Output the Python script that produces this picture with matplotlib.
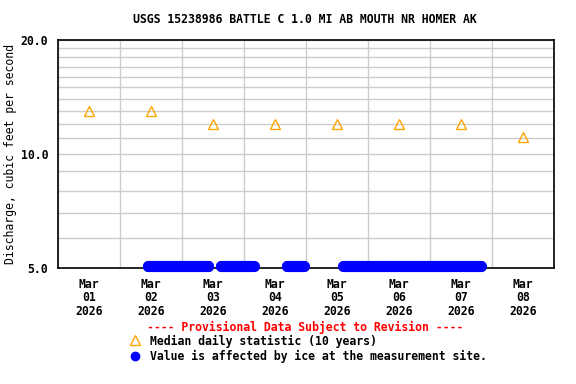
import matplotlib
matplotlib.use("Agg")
import matplotlib.pyplot as plt
import matplotlib.dates as mdates
from matplotlib.ticker import FixedLocator, NullFormatter
import pandas as pd

plt.rcParams['font.family'] = 'DejaVu Sans Mono'
plt.rcParams['font.weight'] = 'bold'
plt.rcParams['font.size'] = 8.3

title = "USGS 15238986 BATTLE C 1.0 MI AB MOUTH NR HOMER AK"

# median daily statistic, plotted at noon of each day
median_days = ["2026-03-01", "2026-03-02", "2026-03-03", "2026-03-04",
               "2026-03-05", "2026-03-06", "2026-03-07", "2026-03-08"]
median_vals = [13.0, 13.0, 12.0, 12.0, 12.0, 12.0, 12.0, 11.1]

# ice-affected periods (15-minute data, shown at the bottom of the axis)
ice_starts = ["2026-03-02 10:45", "2026-03-03 15:00", "2026-03-04 16:30", "2026-03-05 14:30"]
ice_ends = ["2026-03-03 10:15", "2026-03-04 03:45", "2026-03-04 23:15", "2026-03-07 19:45"]
ice_level = 5.05

fig = plt.figure(figsize=(5.76, 3.84), dpi=100)
ax = fig.add_axes([0.1007, 0.302, 0.8611, 0.5938])

ax.set_yscale('log')
ax.set_ylim(5, 20)
ax.set_xlim(pd.Timestamp("2026-03-01"), pd.Timestamp("2026-03-09"))

ax.yaxis.set_major_locator(FixedLocator([5, 10, 20]))
ax.yaxis.set_minor_locator(FixedLocator(list(range(6, 20))))
ax.set_yticklabels(["5.0", "10.0", "20.0"])
ax.yaxis.set_minor_formatter(NullFormatter())

# gridlines at midnight, labels at noon
ax.xaxis.set_minor_locator(mdates.DayLocator())
ax.xaxis.set_major_locator(mdates.HourLocator(byhour=[12]))
ax.xaxis.set_major_formatter(mdates.DateFormatter("%b\n%d\n%Y"))

ax.grid(True, which='minor', axis='both', color='#cccccc', lw=1)
ax.grid(True, which='major', axis='y', color='#cccccc', lw=1)
ax.tick_params(which='both', length=0, pad=7, labelsize=8.3)
for s in ax.spines.values():
    s.set_linewidth(1.2)
ax.set_axisbelow(True)

for lab in ax.get_xticklabels():
    lab.set_linespacing(1.05)

for a, b in zip(ice_starts, ice_ends):
    t = pd.date_range(a, b, freq="15min")
    ax.plot(t, [ice_level] * len(t), 'o', color='#0000ff', ms=7, mec='#0000ff',
            clip_on=False, zorder=3)

ax.plot(pd.to_datetime(median_days) + pd.Timedelta(hours=12), median_vals, '^',
        mfc='none', mec='#ffa500', ms=7.5, mew=1, zorder=4)

ax.set_ylabel("Discharge, cubic feet per second")
ax.yaxis.set_label_coords(-0.083, 0.5)
fig.text(0.53, 0.95, title, ha='center', va='center')

fig.text(0.53, 0.148, "---- Provisional Data Subject to Revision ----",
         color='red', ha='center', va='center')
fig.text(0.26, 0.112, "Median daily statistic (10 years)", ha='left', va='center')
fig.text(0.26, 0.073, "Value is affected by ice at the measurement site.", ha='left', va='center')
fig.lines.append(plt.Line2D([0.235], [0.115], marker='^', mfc='none', mec='#ffa500',
                            ms=7.5, transform=fig.transFigure))
fig.lines.append(plt.Line2D([0.235], [0.074], marker='o', mfc='#0000ff', mec='#0000ff',
                            ms=6, transform=fig.transFigure))

fig.savefig("out.png", dpi=100)
